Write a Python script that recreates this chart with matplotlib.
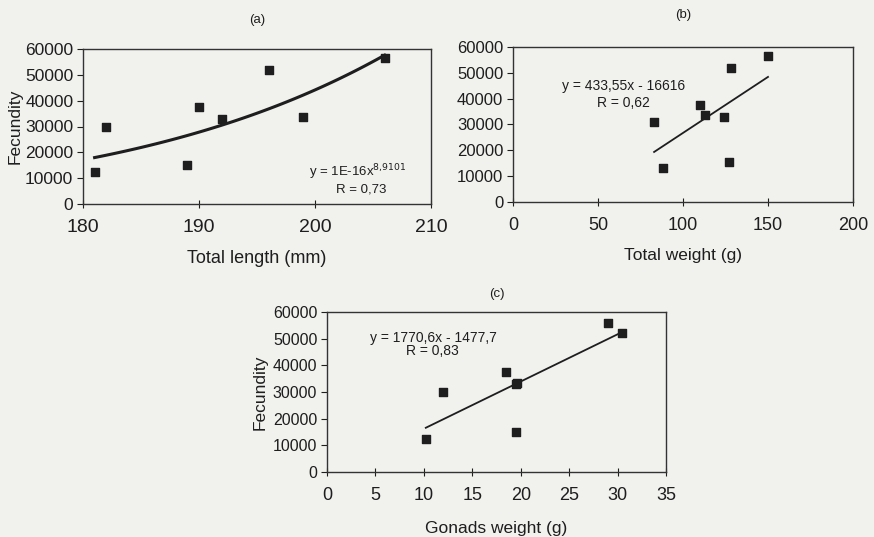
import numpy as np
import matplotlib
matplotlib.use("Agg")
import matplotlib.pyplot as plt

plt.rcParams["font.family"] = ["Liberation Sans", "DejaVu Sans"]

# (a) total length vs fecundity
length_mm = [181, 182, 189, 190, 192, 196, 199, 206]
fec_a = [12500, 30000, 15000, 37500, 33000, 52000, 33500, 56500]

# (b) total weight vs fecundity
weight_g = [83, 88, 110, 113, 124, 127, 128, 150]
fec_b = [31000, 13000, 37500, 33500, 33000, 15500, 52000, 56500]
slope_b, icpt_b = 433.55, -16616

# (c) gonads weight vs fecundity
gonads_g = [10.2, 12, 18.5, 19.5, 19.5, 19.6, 29, 30.5]
fec_c = [12500, 30000, 37500, 33000, 15000, 33500, 56000, 52000]
slope_c, icpt_c = 1770.6, -1477.7

y_ticks = [0, 10000, 20000, 30000, 40000, 50000, 60000]

BG = "#f1f1ee"
INK = "#1e1e1e"

fig = plt.figure(figsize=(8.74, 5.37), dpi=100, facecolor=BG)
W, H = 874, 537


def make_axes(left, top, right, bottom):
    return fig.add_axes([left / W, 1 - bottom / H, (right - left) / W, (bottom - top) / H])


def style(ax, xlim, xticks, xsize, ysize):
    ax.set_facecolor(BG)
    ax.set_xlim(*xlim)
    ax.set_ylim(0, 60000)
    ax.set_xticks(xticks)
    ax.set_yticks(y_ticks)
    for s in ax.spines.values():
        s.set_color("#333333")
        s.set_linewidth(1.0)
    ax.tick_params(axis="x", direction="inout", length=6, width=0.8,
                   labelsize=xsize, colors=INK, pad=8)
    ax.tick_params(axis="y", direction="out", length=4, width=0.8,
                   labelsize=ysize, colors=INK, pad=3)


# panel (a)
ax_a = make_axes(83, 49, 431, 204)
style(ax_a, (180, 210), [180, 190, 200, 210], 14, 12.5)
ax_a.scatter(length_mm, fec_a, marker="s", s=38, color=INK, zorder=3)
b, a = np.polyfit(np.log(length_mm), np.log(fec_a), 1)
xs = np.linspace(min(length_mm), max(length_mm), 100)
ax_a.plot(xs, np.exp(a) * xs ** b, color=INK, lw=2.2)
ax_a.set_xlabel("Total length (mm)", fontsize=13, color=INK, labelpad=10)
ax_a.set_ylabel("Fecundity", fontsize=12.5, color=INK, labelpad=2)
ax_a.set_title("(a)", fontsize=9.5, color=INK, pad=19)
ax_a.text(0.79, 0.205, r"y = 1E-16x$^{8{,}9101}$", transform=ax_a.transAxes,
          ha="center", va="center", fontsize=9.5, color=INK)
ax_a.text(0.80, 0.095, "R = 0,73", transform=ax_a.transAxes,
          ha="center", va="center", fontsize=9.5, color=INK)

# panel (b)
ax_b = make_axes(513, 47, 853, 202)
style(ax_b, (0, 200), [0, 50, 100, 150, 200], 13, 12)
ax_b.scatter(weight_g, fec_b, marker="s", s=38, color=INK, zorder=3)
xb = np.array([min(weight_g), max(weight_g)])
ax_b.plot(xb, slope_b * xb + icpt_b, color=INK, lw=1.3)
ax_b.set_xlabel("Total weight (g)", fontsize=12.5, color=INK, labelpad=10)
ax_b.set_title("(b)", fontsize=9.5, color=INK, pad=21)
ax_b.text(0.325, 0.75, "y = 433,55x - 16616", transform=ax_b.transAxes,
          ha="center", va="center", fontsize=10, color=INK)
ax_b.text(0.325, 0.64, "R = 0,62", transform=ax_b.transAxes,
          ha="center", va="center", fontsize=10, color=INK)

# panel (c)
ax_c = make_axes(327, 312, 666, 472)
style(ax_c, (0, 35), [0, 5, 10, 15, 20, 25, 30, 35], 13, 11.5)
ax_c.scatter(gonads_g, fec_c, marker="s", s=38, color=INK, zorder=3)
xc = np.array([min(gonads_g), max(gonads_g)])
ax_c.plot(xc, slope_c * xc + icpt_c, color=INK, lw=1.3)
ax_c.set_xlabel("Gonads weight (g)", fontsize=12.5, color=INK, labelpad=12)
ax_c.set_ylabel("Fecundity", fontsize=12.5, color=INK, labelpad=4)
ax_c.set_title("(c)", fontsize=9.5, color=INK, pad=11)
ax_c.text(0.315, 0.84, "y = 1770,6x - 1477,7", transform=ax_c.transAxes,
          ha="center", va="center", fontsize=10, color=INK)
ax_c.text(0.31, 0.755, "R = 0,83", transform=ax_c.transAxes,
          ha="center", va="center", fontsize=10, color=INK)

fig.savefig("out.png", dpi=100, facecolor=BG)
